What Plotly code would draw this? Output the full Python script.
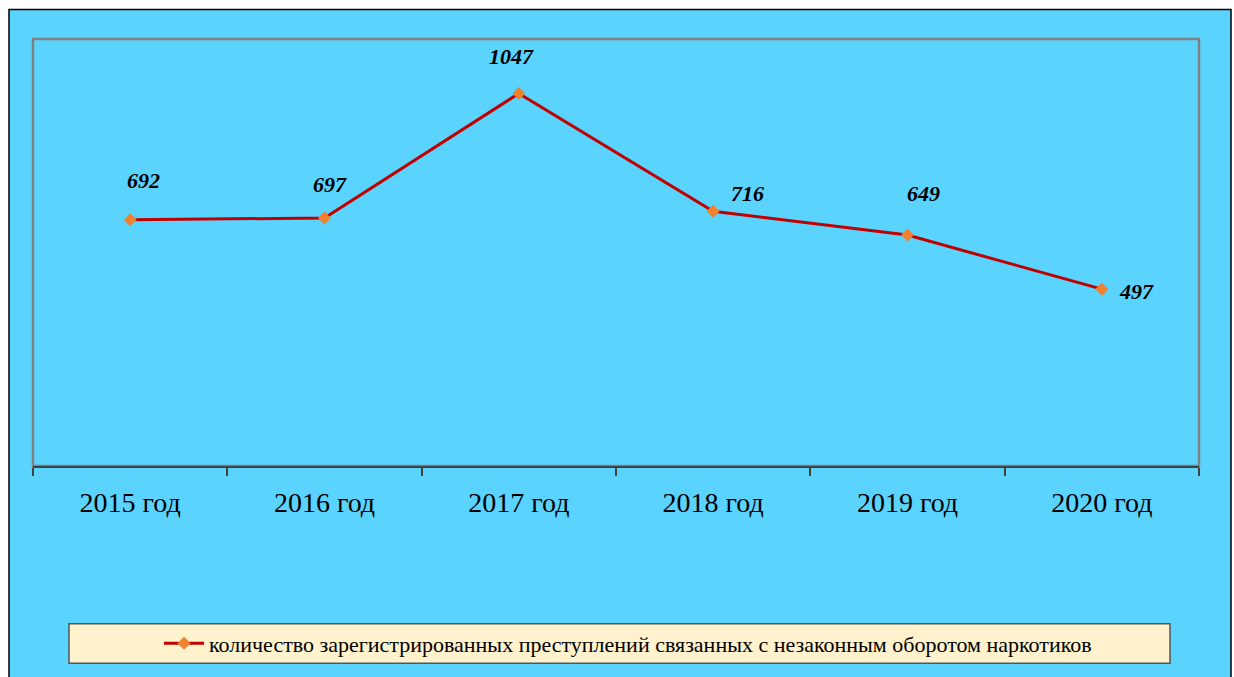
import plotly.graph_objects as go

# === данные
years = ['2015 год', '2016 год', '2017 год', '2018 год', '2019 год', '2020 год']
crimes = [692, 697, 1047, 716, 649, 497]
series_name = 'количество зарегистрированных преступлений связанных с незаконным оборотом наркотиков'

# смещения подписей (px) — как на исходной диаграмме
label_dx = [13, 5, -7, 34, 16, 35]
label_dy = [39, 33, 37, 18, 42, -2]

BG = '#5AD3FF'
W, H = 1234, 677
L, R, T, B = 33, 35, 39, 205
pw, ph = W - L - R, H - T - B


def px_x(v):
    return (v - L) / pw


def px_y(v):
    return (H - B - v) / ph


fig = go.Figure()
fig.add_trace(go.Scatter(
    x=years, y=crimes, name=series_name, mode='lines+markers',
    line=dict(color='#C00000', width=3),
    marker=dict(symbol='diamond', size=10, color='#F0822F'),
))

for yr, v, dx, dy in zip(years, crimes, label_dx, label_dy):
    fig.add_annotation(x=yr, y=v, text=str(v), showarrow=False,
                       xshift=dx, yshift=dy,
                       font=dict(family='Liberation Serif', size=22, color='black',
                                 weight='bold', style='italic'))

# внешняя рамка
fig.add_shape(type='rect', xref='paper', yref='paper', layer='below',
              x0=px_x(9), x1=px_x(1231), y0=px_y(700), y1=px_y(9),
              fillcolor=BG, line=dict(color='black', width=1.5))
# рамка области построения
fig.add_shape(type='rect', xref='paper', yref='paper', layer='below',
              x0=0, x1=1, y0=0, y1=1, fillcolor=BG,
              line=dict(color='#808080', width=2.5))
# рамка легенды
fig.add_shape(type='rect', xref='paper', yref='paper', layer='below',
              x0=px_x(69), x1=px_x(1170), y0=px_y(672), y1=px_y(632),
              fillcolor='#FFF2CC', line=dict(color='#555555', width=1.5))

fig.update_xaxes(range=[-0.5, 5.5], showline=True, linecolor='#404040', linewidth=1.5,
                 ticks='outside', tickson='boundaries', ticklen=8,
                 tickcolor='#404040', tickwidth=1.5, showgrid=False,
                 ticklabelstandoff=11,
                 tickfont=dict(family='Liberation Serif', size=28, color='black'))
fig.update_yaxes(range=[0, 1200], showticklabels=False, showgrid=False,
                 zeroline=False, showline=False)
fig.update_layout(
    width=W, height=H, margin=dict(l=L, r=R, t=T, b=B),
    paper_bgcolor='white', plot_bgcolor=BG,
    showlegend=True,
    legend=dict(x=px_x(628), y=px_y(652), xanchor='center', yanchor='middle',
                bgcolor='rgba(0,0,0,0)', itemwidth=40,
                font=dict(family='Liberation Serif', size=22, color='black')),
)

# убрать отступы страницы, чтобы фигура точно заполняла окно
fig.write_html(
    'out.html', config={'displayModeBar': False},
    post_script="document.body.style.margin='0';"
                "document.body.style.overflow='hidden';"
                "document.documentElement.style.overflow='hidden';",
)
